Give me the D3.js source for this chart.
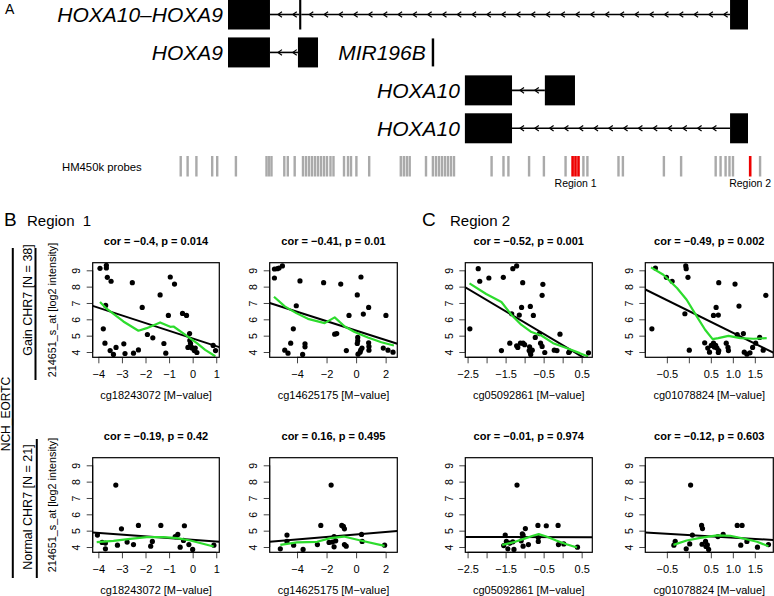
<!DOCTYPE html>
<html><head><meta charset="utf-8">
<script src="https://cdn.jsdelivr.net/npm/d3@7"></script>
<style>
body{margin:0;background:#fff}
svg{display:block}
text{font-family:"Liberation Sans",Arial,Helvetica,sans-serif;white-space:pre}
</style>
</head><body>
<svg id="c" width="774" height="596"></svg>
<script>
// ---------- Panel A data (positions in kb) ----------
const geneNames = ["HOXA10\u2013HOXA9", "HOXA9", "HOXA10", "HOXA10"];
const geneExons = [
  [[0, 1.38], [2.34, 2.41], [16.51, 17.1]],
  [[0, 1.38], [2.30, 2.96]],
  [[7.79, 9.34], [10.42, 11.41]],
  [[7.79, 9.34], [16.51, 17.1]]
];
const mirName = "MIR196B";
const mirExon = [6.70, 6.78];
const probePos = [-1.555,-1.328,-1.039,-0.520,-0.355,0.260,1.266,1.348,1.430,1.851,1.966,2.193,
  2.466,2.565,2.664,2.762,2.861,2.959,3.058,3.157,3.255,3.370,3.469,3.815,3.946,4.045,4.222,4.643,
  5.682,5.781,5.880,5.975,6.511,6.738,6.840,6.939,7.037,7.136,7.234,7.333,7.432,8.668,9.059,9.221,
  9.901,10.388,11.101,11.687,11.819,12.841,12.986,14.334,14.900,16.037,16.198,16.363,16.491,16.606,17.497];
const regionProbePos = [11.332, 11.427, 11.526, 17.172];
const regionNames = ["Region 1", "Region 2"];
const regionCenters = [11.43, 17.172];

// ---------- Scatter data ----------
const cpgNames = ["cg18243072", "cg14625175", "cg05092861", "cg01078824"];
const groupNames = ["Gain CHR7 [N = 38]", "Normal CHR7 [N = 21]"];
const corTitles = [
  "cor = \u22120.4, p = 0.014", "cor = \u22120.41, p = 0.01", "cor = \u22120.52, p = 0.001", "cor = \u22120.49, p = 0.002",
  "cor = \u22120.19, p = 0.42", "cor = 0.16, p = 0.495", "cor = \u22120.01, p = 0.974", "cor = \u22120.12, p = 0.603"
];

const gain1x = [-3.93,-3.66,-3.66,-3.62,-3.46,-2.56,-0.95,-0.77,-1.38,-2.14,-3.69,-0.43,-0.26,-1.03,-3.79,-1.92,-1.69,-0.13,-3.72,-1.22,-3.50,-3.36,-3.25,-2.92,-2.87,-2.51,-2.30,-1.14,-0.12,-0.09,-0.20,-0.03,0.11,0.07,0.18,0.87,0.97,-0.05];
const gain1y = [9.12,9.31,9.14,8.57,8.33,8.24,8.59,8.16,7.49,6.73,6.85,6.36,6.24,6.24,5.42,5.07,4.87,5.13,4.54,4.52,4.09,3.85,4.28,4.50,3.91,3.93,4.13,3.93,4.71,4.52,4.28,4.24,4.24,4.09,3.97,4.40,4.09,4.30];
const gain1lx = [-3.93,-3.65,-2.94,-2.30,-1.95,-1.38,-0.95,-0.81,-0.25,0.18,0.53,0.96];
const gain1ly = [7.06,6.65,5.87,5.30,5.46,5.81,5.54,5.56,4.99,4.54,4.13,3.74];

const gain2x = [-5.53,-5.33,-5.22,-4.99,-5.53,-3.80,-2.20,-1.04,0.33,0.08,0.85,-4.05,0.49,-0.48,2.02,-4.25,-1.45,-1.31,-4.43,-3.46,-3.46,0.11,0.11,0.08,-4.83,-4.61,-3.62,-0.66,0.13,0.27,0.40,0.31,0.85,0.87,0.87,1.84,2.16,2.50];
const gain2y = [9.08,9.10,9.14,9.27,8.53,8.35,8.24,8.16,8.59,7.49,6.73,6.83,6.32,6.24,6.24,5.42,5.09,5.13,4.54,4.50,4.32,4.89,4.69,4.52,4.11,3.93,3.85,4.09,3.87,3.99,4.24,4.11,4.56,4.34,4.11,4.24,4.11,3.99];
const gain2lx = [-5.56,-4.83,-4.05,-3.26,-2.13,-1.45,-0.77,-0.10,0.80,1.71,2.56];
const gain2ly = [7.38,6.79,6.38,6.03,5.77,6.12,5.56,5.22,4.89,4.60,4.40];

const gain3x = [-2.44,-2.22,-2.18,-1.94,-1.56,-1.31,-1.21,-1.05,-0.52,-0.54,-1.34,-1.14,-1.08,-0.85,-0.77,-1.61,-1.39,-1.21,-1.18,-1.11,-1.04,-0.87,-0.88,-0.85,-0.84,-0.80,-0.72,-0.61,-0.58,-0.54,-0.47,-0.22,-0.15,-0.07,0.16,0.18,0.68,-1.00];
const gain3y = [5.42,9.10,8.33,8.53,8.57,9.10,9.27,8.24,8.14,7.47,6.34,6.26,6.73,6.79,6.24,4.09,4.54,4.38,4.28,4.54,4.54,4.32,4.09,3.97,3.85,4.11,4.89,5.13,4.54,4.34,3.97,4.11,4.09,5.09,3.97,4.03,3.95,4.45];
const gain3lx = [-2.45,-2.01,-1.61,-1.35,-1.09,-0.82,-0.56,-0.25,0.10,0.45,0.67];
const gain3ly = [8.20,7.55,7.06,6.28,5.67,5.22,5.01,4.54,4.24,3.93,3.72];

const gain4x = [-0.84,-0.76,-0.51,-0.38,-0.09,-0.07,-0.06,-0.02,0.01,0.36,0.43,0.47,0.51,0.56,0.62,0.67,0.68,0.56,0.61,0.64,0.67,0.68,0.85,0.89,0.90,1.05,1.10,1.14,1.24,1.26,1.32,1.39,1.45,1.52,1.61,1.69,1.75,0.58];
const gain4y = [5.42,9.14,8.57,8.33,6.34,9.27,9.10,8.57,4.11,4.56,4.24,3.99,4.40,6.24,6.73,6.26,8.24,4.54,4.40,4.24,3.97,4.09,4.54,4.28,4.09,8.16,5.07,6.81,5.13,3.99,3.87,3.95,4.28,4.54,4.89,4.11,7.47,4.30];
const gain4lx = [-0.86,-0.58,-0.27,-0.05,0.18,0.37,0.54,0.67,0.90,1.17,1.47,1.77];
const gain4ly = [9.18,8.73,7.92,7.20,6.18,5.36,4.79,4.85,4.99,4.85,4.81,4.85];

const norm1x = [-4.04,-3.84,-3.70,-3.70,-3.26,-3.19,-3.02,-2.78,-2.51,-2.30,-1.78,-1.71,-1.35,-0.74,-0.63,-0.53,-0.35,-0.39,-0.16,0.00,0.90];
const norm1y = [4.73,4.28,4.24,3.89,7.79,4.11,5.11,4.30,4.15,5.32,4.05,4.34,5.32,4.64,4.77,3.99,5.30,4.40,4.15,3.85,4.11];
const norm1lx = [-4.07,-3.36,-2.65,-1.95,-1.24,-0.67,-0.10,0.89];
const norm1ly = [4.30,4.38,4.50,4.60,4.60,4.54,4.40,4.03];

const norm2x = [-5.13,-4.68,-4.68,-4.23,-3.59,-2.62,-2.39,-1.83,-1.69,-1.49,-1.49,-1.38,-0.97,-0.86,-0.79,-0.79,-0.67,0.37,0.41,1.93,-1.60];
const norm2y = [3.89,4.73,4.34,4.11,3.85,4.15,5.32,4.28,7.79,4.64,4.01,4.38,5.32,5.26,5.11,4.15,4.05,4.77,4.34,4.11,4.30];
const norm2lx = [-5.13,-4.0,-2.64,-1.74,-0.83,0.30,1.93];
const norm2ly = [4.13,4.28,4.32,4.54,4.64,4.40,4.07];

const norm3x = [-1.55,-1.51,-1.48,-1.44,-1.39,-1.28,-1.31,-1.20,-1.09,-1.06,-1.04,-1.04,-0.98,-0.90,-0.65,-0.64,-0.64,-0.43,-0.12,-0.11,0.03,0.39];
const norm3y = [4.09,4.73,4.34,3.89,4.24,3.85,4.32,7.79,4.38,4.81,4.73,4.05,5.13,4.15,5.32,4.58,4.34,5.30,5.32,4.15,4.19,3.99];
const norm3lx = [-1.59,-1.31,-1.04,-0.78,-0.63,-0.43,-0.17,0.10,0.38];
const norm3ly = [4.13,4.28,4.48,4.69,4.79,4.64,4.40,4.17,3.97];

const norm4x = [-0.34,-0.31,-0.06,0.02,0.04,0.08,0.29,0.31,0.30,0.38,0.39,0.42,0.45,0.66,0.78,1.10,1.21,1.18,1.32,1.56,1.81];
const norm4y = [4.11,4.34,3.89,4.19,7.79,4.73,5.32,5.13,4.17,4.34,4.03,4.13,3.85,4.64,4.77,5.32,5.32,4.11,4.34,3.99,4.15];
const norm4lx = [-0.35,-0.05,0.26,0.64,0.94,1.24,1.55,1.81];
const norm4ly = [4.13,4.40,4.56,4.71,4.69,4.52,4.32,4.05];

// linear fits: intercept, slope per panel
const fitIntercepts = [4.83, 5.31, 4.42, 6.51, 4.44, 4.77, 4.605, 4.73];
const fitSlopes = [-0.47, -0.289, -1.383, -1.33, -0.106, 0.0775, -0.005, -0.156];

// axes
const xDomains = [[-4.24, 1.13], [-5.85, 2.79], [-2.56, 0.78], [-0.99, 1.92]];
const xTicks = [[-4,-3,-2,-1,0,1], [-4,-2,0,2], [-2.5,-2,-1.5,-1,-0.5,0,0.5], [-0.5,0,0.5,1,1.5]];
const xTickLabels = [["\u22124","\u22123","\u22122","\u22121","0","1"], ["\u22124","\u22122","0","2"],
  ["\u22122.5","","\u22121.5","","\u22120.5","","0.5"], ["\u22120.5","","0.5","1.0","1.5"]];
const yDomain = [3.676, 9.465];
const yTicks = [4, 5, 6, 7, 8, 9];
const yTitle = "214651_s_at [log2 intensity]";

// ---------- drawing ----------
const svg = d3.select("#c");
svg.append("rect").attr("width", 774).attr("height", 596).attr("fill", "#fff");

// Panel A
svg.append("text").attr("x", 5).attr("y", 14).attr("font-size", 14).text("A");
const gx = d3.scaleLinear().domain([0, 17.1]).range([228, 748]);
const rowCenter = i => 14.5 + i * 37.93;
const boxH = 30;
const gA = svg.append("g");
geneExons.forEach((ex, i) => {
  const cy = rowCenter(i);
  for (let k = 0; k < ex.length - 1; k++) {
    const a = gx(ex[k][1]), b = gx(ex[k + 1][0]);
    gA.append("line").attr("x1", a).attr("x2", b).attr("y1", cy).attr("y2", cy)
      .attr("stroke", "#000").attr("stroke-width", 1.6);
    for (let px = a + 8; px < b - 3; px += 14.8) {
      gA.append("path").attr("d", `M${px + 4},${cy - 2.8}L${px},${cy}L${px + 4},${cy + 2.8}`)
        .attr("fill", "none").attr("stroke", "#000").attr("stroke-width", 1.2);
    }
  }
  ex.forEach(e => {
    gA.append("rect").attr("x", gx(e[0])).attr("y", cy - boxH / 2)
      .attr("width", Math.max(2, gx(e[1]) - gx(e[0]))).attr("height", boxH).attr("fill", "#000");
  });
  gA.append("text").attr("x", gx(ex[0][0]) - 5).attr("y", cy + 7.5).attr("text-anchor", "end")
    .attr("font-size", 21).attr("font-style", "italic").text(geneNames[i]);
});
{
  const cy = rowCenter(1);
  gA.append("rect").attr("x", gx(mirExon[0])).attr("y", cy - 14).attr("width", gx(mirExon[1]) - gx(mirExon[0]))
    .attr("height", 28).attr("fill", "#000");
  gA.append("text").attr("x", gx(mirExon[0]) - 6).attr("y", cy + 7.5).attr("text-anchor", "end")
    .attr("font-size", 21).attr("font-style", "italic").text(mirName);
}
// probes
svg.append("text").attr("x", 62).attr("y", 170.5).attr("font-size", 11.3).text("HM450k probes");
svg.append("g").selectAll("rect").data(probePos).join("rect")
  .attr("x", d => gx(d) - 1.2).attr("y", 156).attr("width", 2.4).attr("height", 20.5).attr("fill", "#aaaaaa");
svg.append("g").selectAll("rect").data(regionProbePos).join("rect")
  .attr("x", d => gx(d) - 1.3).attr("y", 156).attr("width", 2.6).attr("height", 20.5).attr("fill", "#ee0000");
svg.append("g").selectAll("text").data(regionNames).join("text")
  .attr("x", (d, i) => gx(regionCenters[i])).attr("y", 187).attr("text-anchor", "middle")
  .attr("font-size", 10.5).text(d => d);

// Section headers
svg.append("text").attr("x", 4).attr("y", 226).attr("font-size", 19).text("B");
svg.append("text").attr("x", 27).attr("y", 226).attr("font-size", 15).text("Region  1");
svg.append("text").attr("x", 422).attr("y", 226).attr("font-size", 19).text("C");
svg.append("text").attr("x", 450).attr("y", 226).attr("font-size", 15).text("Region 2");

// Left labels
const rotText = (x, y, txt, fs) => svg.append("text").attr("transform", `translate(${x},${y}) rotate(-90)`)
  .attr("text-anchor", "middle").attr("font-size", fs).text(txt);
rotText(9.5, 414, "NCH_EORTC", 12);
svg.append("line").attr("x1", 12.8).attr("x2", 12.8).attr("y1", 248).attr("y2", 578).attr("stroke", "#000").attr("stroke-width", 2);
rotText(31.5, 300, groupNames[0], 12.5);
svg.append("line").attr("x1", 35.5).attr("x2", 35.5).attr("y1", 248).attr("y2", 380).attr("stroke", "#000").attr("stroke-width", 2);
rotText(32, 507, groupNames[1], 12.5);
svg.append("line").attr("x1", 36.8).attr("x2", 36.8).attr("y1", 439).attr("y2", 578).attr("stroke", "#000").attr("stroke-width", 2);

// Scatter panels
const panelX = [gain1x, gain2x, gain3x, gain4x, norm1x, norm2x, norm3x, norm4x];
const panelY = [gain1y, gain2y, gain3y, gain4y, norm1y, norm2y, norm3y, norm4y];
const loessX = [gain1lx, gain2lx, gain3lx, gain4lx, norm1lx, norm2lx, norm3lx, norm4lx];
const loessY = [gain1ly, gain2ly, gain3ly, gain4ly, norm1ly, norm2ly, norm3ly, norm4ly];
const colLeft = [92.7, 269.7, 465.3, 645.3];
const colWidth = [126.6, 127.6, 127, 128];
const rowTop = [262.7, 457.7];
const plotH = 94.6;

for (let p = 0; p < 8; p++) {
  const col = p % 4, row = Math.floor(p / 4);
  const L = colLeft[col], T = rowTop[row], W = colWidth[col];
  const x = d3.scaleLinear().domain(xDomains[col]).range([L, L + W]);
  const y = d3.scaleLinear().domain(yDomain).range([T + plotH, T]);
  const g = svg.append("g");
  const clipId = "clip" + p;
  g.append("clipPath").attr("id", clipId).append("rect").attr("x", L).attr("y", T).attr("width", W).attr("height", plotH);

  // title
  g.append("text").attr("x", L + W / 2).attr("y", T - 17.5).attr("text-anchor", "middle")
    .attr("font-size", 11).attr("font-weight", "bold").text(corTitles[p]);
  // x axis
  const xa = g.append("g").attr("transform", `translate(0,${T + plotH})`)
    .call(d3.axisBottom(x).tickValues(xTicks[col]).tickSize(6).tickPadding(6.5)
      .tickFormat((d, i) => xTickLabels[col][i]));
  xa.select(".domain").attr("d", `M${x(xTicks[col][0])},0H${x(xTicks[col][xTicks[col].length - 1])}`);
  xa.selectAll(".tick line").attr("stroke", "#444");
  xa.selectAll("text").attr("font-size", 11).attr("font-family", null).attr("dy", "0.71em");
  // y axis
  const ya = g.append("g").attr("transform", `translate(${L},0)`)
    .call(d3.axisLeft(y).tickValues(yTicks).tickSize(6).tickFormat(d3.format("d")));
  ya.select(".domain").attr("d", `M0,${y(yTicks[0])}V${y(yTicks[yTicks.length - 1])}`);
  ya.selectAll(".tick line").attr("stroke", "#444");
  ya.selectAll(".tick text").attr("font-size", 10.5).attr("font-family", null)
    .attr("x", null).attr("dy", null).attr("text-anchor", "middle")
    .attr("transform", "translate(-12.7,0) rotate(-90)");
  // x title
  g.append("text").attr("x", L + W / 2).attr("y", T + plotH + 42).attr("text-anchor", "middle")
    .attr("font-size", 11).text(cpgNames[col] + " [M\u2212value]");
  if (col === 0) {
    g.append("text").attr("transform", `translate(56,${T + plotH / 2}) rotate(-90)`)
      .attr("text-anchor", "middle").attr("font-size", 10.8).text(yTitle);
  }
  // points
  g.append("g").selectAll("circle").data(panelX[p]).join("circle")
    .attr("cx", d => x(d)).attr("cy", (d, i) => y(panelY[p][i])).attr("r", 2.6).attr("fill", "#000");
  // regression line
  const xd = xDomains[col];
  g.append("line").attr("clip-path", `url(#${clipId})`)
    .attr("x1", x(xd[0])).attr("y1", y(fitIntercepts[p] + fitSlopes[p] * xd[0]))
    .attr("x2", x(xd[1])).attr("y2", y(fitIntercepts[p] + fitSlopes[p] * xd[1]))
    .attr("stroke", "#000").attr("stroke-width", 2);
  // loess curve
  const lineGen = d3.line().x(d => x(d[0])).y(d => y(d[1]));
  g.append("path").datum(loessX[p].map((v, i) => [v, loessY[p][i]]))
    .attr("d", lineGen).attr("fill", "none").attr("stroke", "#2ddc2d").attr("stroke-width", 2.2)
    .attr("stroke-linejoin", "round");
  // box
  g.append("rect").attr("x", L).attr("y", T).attr("width", W).attr("height", plotH)
    .attr("fill", "none").attr("stroke", "#000").attr("stroke-width", 1.2);
}
</script>
</body></html>
